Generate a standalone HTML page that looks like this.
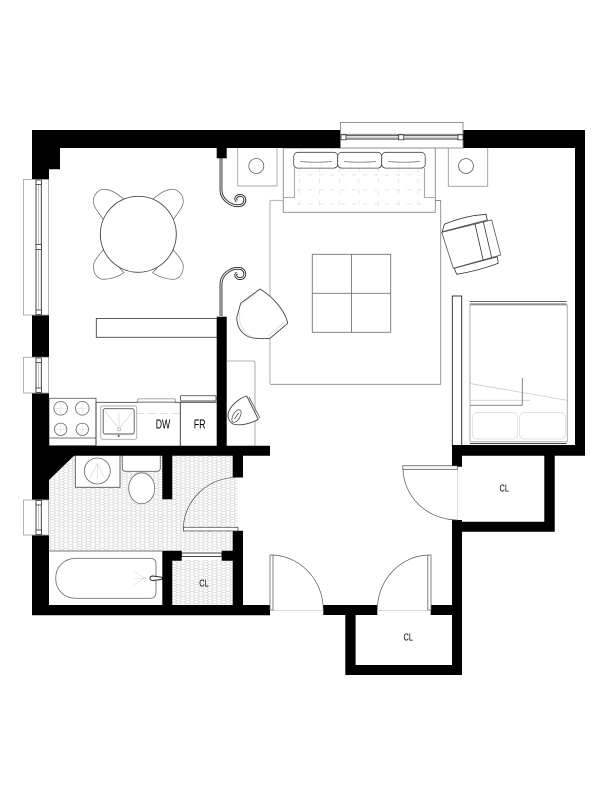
<!DOCTYPE html>
<html>
<head>
<meta charset="utf-8">
<style>
html,body{margin:0;padding:0;background:#fff;width:612px;height:792px;overflow:hidden}
svg{display:block}
text{font-family:"Liberation Sans",sans-serif;fill:#000;text-anchor:middle}
</style>
</head>
<body>
<svg xmlns="http://www.w3.org/2000/svg" width="612" height="792" viewBox="0 0 612 792">
<defs>
<pattern id="hex" width="9" height="5.4" patternUnits="userSpaceOnUse">
<path d="M0,1.35 L1.5,0 H4.5 L6,1.35 L4.5,2.7 H1.5 Z M6,1.35 H9 M1.5,2.7 L0,4.05 L1.5,5.4 M4.5,2.7 L6,4.05 L4.5,5.4 M6,4.05 H9" fill="none" stroke="#c8c8c8" stroke-width=".5"/>
</pattern>
</defs>

<!-- tile -->
<path d="M49,480 L74,455 H233 V477 H238 V531 H233 V551 H162 H49 Z" fill="url(#hex)"/>
<rect x="172" y="560" width="61" height="45" fill="url(#hex)"/>

<!-- rug -->
<path d="M270,384 V200.5 H284" fill="none" stroke="#bbb" stroke-width="1.2"/>
<path d="M435,200.5 H440.7 V384.3 H270" fill="none" stroke="#888" stroke-width=".9"/>
<rect x="312.3" y="254.3" width="78.4" height="78" fill="none" stroke="#777" stroke-width=".9"/>
<path d="M351.5,254.3 V332.3 M312.3,293.3 H390.7" stroke="#777" stroke-width=".9" fill="none"/>

<!-- sofa -->
<rect x="283.3" y="148" width="152" height="64.3" fill="#fff" stroke="#888" stroke-width=".9"/>
<path d="M294.5,168 V197.5 H283.8" fill="none" stroke="#aaa" stroke-width="1.1"/>
<path d="M424.5,168 V197.5 H435" fill="none" stroke="#aaa" stroke-width="1.1"/>
<g stroke="#dedede" stroke-width=".7" stroke-dasharray="4 7" fill="none">
<path d="M297,175 H424 M297,190 H424 M297,204 H424"/>
<path d="M299.5,168 V210 M319.5,168 V210 M339.5,168 V210 M359,168 V210 M378.5,168 V210 M398.5,168 V210 M418,168 V210"/>
</g>
<g fill="#fff" stroke="#444" stroke-width=".8">
<rect x="293.7" y="152.3" width="44" height="15.8" rx="4"/>
<rect x="337.7" y="152.3" width="44" height="15.8" rx="4"/>
<rect x="381.7" y="152.3" width="43.5" height="15.8" rx="4"/>
</g>
<path d="M300,161.5 Q316,163 332,161.5 M344,161.5 Q360,163 376,161.5 M388,161.5 Q404,163 420,161.5" fill="none" stroke="#777" stroke-width=".7"/>

<!-- side tables -->
<path d="M237.7,148 V186 H277 V148" fill="#fff" stroke="#aaa" stroke-width=".9"/>
<circle cx="256.3" cy="166" r="7.5" fill="#fff" stroke="#666" stroke-width=".8"/>
<path d="M448.3,148 V186.3 H487.7 V148" fill="#fff" stroke="#999" stroke-width=".9"/>
<circle cx="466" cy="166" r="7.4" fill="#fff" stroke="#555" stroke-width=".8"/>

<!-- dining -->
<g fill="#fff" stroke="#777" stroke-width=".8">
<path d="M103.3,219.3 C98,212 93,206 93.3,201 C93.5,194 99,189 105,189.3 C112,189.5 119,195 124,199.3 Z"/>
<path d="M173.3,219.3 C178.6,212 183.6,206 183.3,201 C183.1,194 177.6,189 171.6,189.3 C164.6,189.5 157.6,195 152.6,199.3 Z"/>
<path d="M103.3,250 C98,256 93,262 93.3,267 C93.5,274 98,279.5 104,279.3 C112,279 119,276 124,272.7 Z"/>
<path d="M173.3,250 C178.6,256 183.6,262 183.3,267 C183.1,274 178.6,279.5 172.6,279.3 C164.6,279 157.6,276 152.6,272.7 Z"/>
</g>
<circle cx="138.3" cy="234.3" r="38" fill="#fff" stroke="#444" stroke-width=".9"/>

<!-- shelf -->
<rect x="96.3" y="318.5" width="121" height="18.8" fill="#fff" stroke="#444" stroke-width=".9"/>

<!-- curtain curls -->
<g fill="none">
<path d="M221,158 V190 C221,200 232,207 240,205.5 C246,204.5 246.5,196.5 241,195.5 C236.5,195 234,199 237,201" stroke="#222" stroke-width="2.8"/>
<path d="M221,158 V190 C221,200 232,207 240,205.5 C246,204.5 246.5,196.5 241,195.5 C236.5,195 234,199 237,201" stroke="#fff" stroke-width="1"/>
<path d="M221,316 V284 C221,274 232,267 240,268.5 C246,269.5 246.5,277.5 241,278.5 C236.5,279 234,275 237,273" stroke="#222" stroke-width="2.8"/>
<path d="M221,316 V284 C221,274 232,267 240,268.5 C246,269.5 246.5,277.5 241,278.5 C236.5,279 234,275 237,273" stroke="#fff" stroke-width="1"/>
</g>

<!-- round chair -->
<path d="M260,289 L240.7,303.3 L236.7,318 C237,325 240,332 247,336 C253,339 262,339 270,338.3 L287.7,323.3 C286,313 275,298 260,289 Z" fill="#fff" stroke="#444" stroke-width=".9"/>
<path d="M241,304 L256,294 M240,312 C238,322 242,332 252,337 M268,336 L285,322" fill="none" stroke="#ddd" stroke-width=".9"/>

<!-- right armchair -->
<g fill="#fff" stroke="#333" stroke-width=".8">
<path d="M442.3,231.7 L444.3,224.3 Q465,215.5 486,214.3 L487.3,220 Z"/>
<path d="M454.3,268.3 L456.7,274.3 Q478,271 498.3,263.3 L497.3,256.7 Z"/>
<path d="M441.7,232.3 L491.7,220 L500.7,255 L453.3,268.3 Z" stroke="#555"/>
<path d="M475,224 L483.3,260.7 M483.3,221.7 L491.7,257.7" fill="none"/>
</g>

<!-- bed -->
<rect x="452.3" y="296" width="9.4" height="150" fill="#fff" stroke="#222" stroke-width=".9"/>
<rect x="470" y="305" width="97.3" height="136.7" fill="#fff" stroke="#b4b4b4" stroke-width="1.1"/>
<path d="M469.7,301.5 H566.7 M469.7,304 H566.7" stroke="#666" stroke-width=".9" fill="none"/>
<path d="M470,443.5 H566.7" stroke="#444" stroke-width=".9"/>
<path d="M470,383.5 L567,400.3 M470,400.3 H530" stroke="#d0d0d0" stroke-width=".9" fill="none"/>
<path d="M522.3,378 V405.3 H470" stroke="#777" stroke-width=".9" fill="none"/>
<rect x="472.5" y="412.5" width="45" height="26.5" rx="5" fill="#fff" stroke="#e0e0e0" stroke-width=".9"/>
<rect x="519.5" y="412.5" width="46" height="26.5" rx="5" fill="#fff" stroke="#e0e0e0" stroke-width=".9"/>

<!-- kitchen -->
<rect x="49" y="398.3" width="47" height="47.4" fill="#fff" stroke="#666" stroke-width=".9"/>
<path d="M49,438 H96" stroke="#777" stroke-width=".9"/>
<g stroke="#d8d8d8" stroke-width=".5">
<path d="M54,408.3 H67.4 M60.7,401.6 V415 M75.6,408.3 H89 M82.3,401.6 V415 M54,429.3 H67.4 M60.7,422.6 V436 M75.6,429.3 H89 M82.3,422.6 V436"/>
</g>
<g fill="none" stroke="#666" stroke-width=".8">
<circle cx="60.7" cy="408.3" r="6.8"/>
<circle cx="82.3" cy="408.3" r="6.8"/>
<circle cx="60.7" cy="429.3" r="6.2"/>
<circle cx="82.3" cy="429.3" r="6.2"/>
</g>
<path d="M96,402.3 H216.7" stroke="#444" stroke-width=".9"/>
<path d="M136,413.3 H180" stroke="#ccc" stroke-width=".7" stroke-dasharray="8 4"/>
<path d="M96,445 V402 M180.3,402 V445.7" stroke="#333" stroke-width=".9" fill="none"/>
<rect x="100.7" y="406" width="36" height="33.3" rx="2" fill="#fff" stroke="#aaa" stroke-width=".9"/>
<rect x="103.2" y="408.7" width="31" height="25.3" rx="2" fill="#fff" stroke="#555" stroke-width=".9"/>
<path d="M105,411 L119,429 L133,411 M119,412 V429" stroke="#d8d8d8" stroke-width=".7" fill="none"/>
<circle cx="119" cy="429.5" r="1.5" fill="#fff" stroke="#999" stroke-width=".6"/>
<circle cx="118.7" cy="436" r="1.1" fill="#666"/>
<rect x="137.5" y="398.8" width="38" height="3.2" rx="1.5" fill="#fff" stroke="#999" stroke-width=".9"/>
<rect x="180.5" y="395.7" width="35.5" height="5.3" rx="1" fill="#fff" stroke="#555" stroke-width=".9"/>
<text x="163" y="428.4" font-size="12.5" textLength="14.5" lengthAdjust="spacingAndGlyphs">DW</text>
<text x="199.7" y="428.4" font-size="12.5" textLength="12" lengthAdjust="spacingAndGlyphs">FR</text>

<!-- hall closet panel -->
<path d="M227,361 H253 Q255,361 255,363 V445.7" fill="none" stroke="#b4b4b4" stroke-width="1.1"/>
<path d="M246.7,396 L258.3,419.3 C250,424 240,426 233,424 C228,421 227,415 229,411 C232,404 240,398 246.7,396 Z" fill="#fff" stroke="#444" stroke-width=".9"/>
<path d="M249,397 L260,418" stroke="#666" stroke-width=".9"/>
<ellipse cx="236.5" cy="416" rx="3.5" ry="7" transform="rotate(30 236.5 416)" fill="#fff" stroke="#555" stroke-width=".8"/>
<path d="M234.5,419 L238.5,413" stroke="#555" stroke-width=".8"/>

<!-- bath fixtures -->
<rect x="75.3" y="455" width="44.7" height="32.3" fill="#fff" stroke="#555" stroke-width=".9"/>
<circle cx="97.3" cy="471" r="13" fill="#fff" stroke="#666" stroke-width=".8"/>
<path d="M97.3,463 V479 M97.3,463 L90,478 M97.3,463 L104.5,478" stroke="#d8d8d8" stroke-width=".7" fill="none"/>
<rect x="122.3" y="450" width="38" height="21.3" rx="3" fill="#fff" stroke="#666" stroke-width=".9"/>
<ellipse cx="141.7" cy="488.3" rx="13" ry="15.5" fill="#fff" stroke="#666" stroke-width=".8"/>
<rect x="49" y="551" width="113.3" height="54" fill="#fff"/>
<path d="M49,551 H162" stroke="#777" stroke-width=".9"/>
<path d="M76,558.3 H150 Q156,558.3 156,564 V592 Q156,598.3 150,598.3 H76 C64,598.3 55.7,590 55.7,578.3 C55.7,567 64,558.3 76,558.3 Z" fill="#fff" stroke="#777" stroke-width=".9"/>
<path d="M133,578.3 H144 M134,571 L144,578 L134,585" stroke="#e2e2e2" stroke-width=".7" fill="none"/>
<circle cx="144.7" cy="578.3" r="1" fill="#fff" stroke="#bbb" stroke-width=".5"/>
<path d="M150,578.3 Q150,576 153,576 L162,577.3 V579.3 L153,580.5 Q150,580.5 150,578.3 Z" fill="#fff" stroke="#222" stroke-width=".9"/>

<!-- walls -->
<g fill="#000">
<path d="M32,130 H341 V148 H60 V169.3 H49 V179.7 H32 Z"/>
<path d="M463,130 H585 V455.7 H462 V466.7 H452 V445 H575 V148 H463 Z"/>
<rect x="32" y="315" width="17" height="42"/>
<path d="M32,393 H49 V445.7 H270 V455.7 H74 L49,480 V500 H32 Z"/>
<path d="M32,535 H49 V605 H270 V615.3 H32 Z"/>
<rect x="216.7" y="148" width="10" height="10.3"/>
<rect x="216.7" y="316.7" width="10" height="130"/>
<rect x="162.3" y="455" width="10" height="44.3"/>
<path d="M162.3,550.7 H181.7 V560.7 H172.3 V605 H162.3 Z"/>
<rect x="232.7" y="455" width="10.3" height="22.5"/>
<path d="M232.7,530.7 H243 V605 H232.7 V560.7 H221.7 V550.7 H232.7 Z"/>
<path d="M452,520 H462 V521.7 H544.3 V455 H554.7 V531.7 H462 V675 H345.3 V615 H323.3 V605 H377.3 V615 H355.6 V665 H452 V615 H430.7 V605 H452 Z"/>
</g>

<!-- windows -->
<g>
<rect x="23.5" y="179.5" width="25" height="135.5" fill="#fff" stroke="#aaa" stroke-width=".9"/>
<path d="M36,181 V314 M41.3,181 V314" stroke="#333" stroke-width=".9" fill="none"/>
<path d="M38.6,181 V314" stroke="#bbb" stroke-width=".9"/>
<rect x="36" y="180" width="5.4" height="4.5" fill="#fff" stroke="#333" stroke-width=".8"/>
<rect x="36" y="244.5" width="5.4" height="5" fill="#fff" stroke="#333" stroke-width=".8"/>
<rect x="36" y="310" width="5.4" height="4.5" fill="#fff" stroke="#333" stroke-width=".8"/>

<rect x="23.5" y="357.3" width="25" height="35.7" fill="#fff" stroke="#aaa" stroke-width=".9"/>
<path d="M36,359 V392 M41.3,359 V392" stroke="#333" stroke-width=".9" fill="none"/>
<path d="M38.6,359 V392" stroke="#bbb" stroke-width=".9"/>
<rect x="36" y="358" width="5.4" height="4.5" fill="#fff" stroke="#333" stroke-width=".8"/>
<rect x="36" y="388" width="5.4" height="4.5" fill="#fff" stroke="#333" stroke-width=".8"/>

<rect x="23.5" y="500" width="25" height="35" fill="#fff" stroke="#aaa" stroke-width=".9"/>
<path d="M36,502 V534 M41.3,502 V534" stroke="#333" stroke-width=".9" fill="none"/>
<path d="M38.6,502 V534" stroke="#bbb" stroke-width=".9"/>
<rect x="36" y="500.5" width="5.4" height="4.5" fill="#fff" stroke="#333" stroke-width=".8"/>
<rect x="36" y="530" width="5.4" height="4.5" fill="#fff" stroke="#333" stroke-width=".8"/>

<rect x="340.5" y="122.5" width="122.5" height="25.5" fill="#fff" stroke="#888" stroke-width=".9"/>
<path d="M341,134.3 H463" stroke="#777" stroke-width=".9"/>
<path d="M343,135.7 H460 M343,139 H460" stroke="#333" stroke-width=".9" fill="none"/>
<path d="M343,137.4 H460" stroke="#bbb" stroke-width=".7"/>
<rect x="341" y="134.8" width="5" height="5" fill="#fff" stroke="#333" stroke-width=".8"/>
<rect x="398.7" y="134.8" width="5" height="5" fill="#fff" stroke="#333" stroke-width=".8"/>
<rect x="458" y="134.8" width="5" height="5" fill="#fff" stroke="#333" stroke-width=".8"/>
</g>

<!-- doors -->
<g fill="none">
<path d="M183.3,529 A54,52 0 0 1 238,477.3" stroke="#555" stroke-width=".7"/>
<rect x="183.5" y="527.3" width="54.5" height="3.6" fill="#fff" stroke="#555" stroke-width=".8"/>
<rect x="181.7" y="553" width="40" height="3.5" fill="#fff" stroke="#333" stroke-width=".9"/>

<path d="M403,468 A54.5,52 0 0 0 457.5,520" stroke="#555" stroke-width=".7"/>
<path d="M457.5,468 V520" stroke="#d0d0d0" stroke-width=".7"/>
<rect x="402.8" y="465.8" width="54.5" height="3.5" fill="#fff" stroke="#555" stroke-width=".8"/>

<path d="M271,555 A52.5,55 0 0 1 323.3,610" stroke="#555" stroke-width=".7"/>
<path d="M273,610.5 H323" stroke="#d0d0d0" stroke-width=".7"/>
<rect x="270" y="555" width="3" height="55" fill="#fff" stroke="#666" stroke-width=".8"/>

<path d="M430,555 A52.5,55 0 0 0 377.3,610" stroke="#555" stroke-width=".7"/>
<path d="M378,610.5 H428" stroke="#d0d0d0" stroke-width=".7"/>
<rect x="427.8" y="555" width="3.2" height="55" fill="#fff" stroke="#666" stroke-width=".8"/>
</g>

<text x="204" y="586.5" font-size="10.5" textLength="9.5" lengthAdjust="spacingAndGlyphs">CL</text>
<text x="504.3" y="491.5" font-size="10.5" textLength="9.5" lengthAdjust="spacingAndGlyphs">CL</text>
<text x="408.3" y="640.5" font-size="10.5" textLength="9.5" lengthAdjust="spacingAndGlyphs">CL</text>
</svg>
</body>
</html>
